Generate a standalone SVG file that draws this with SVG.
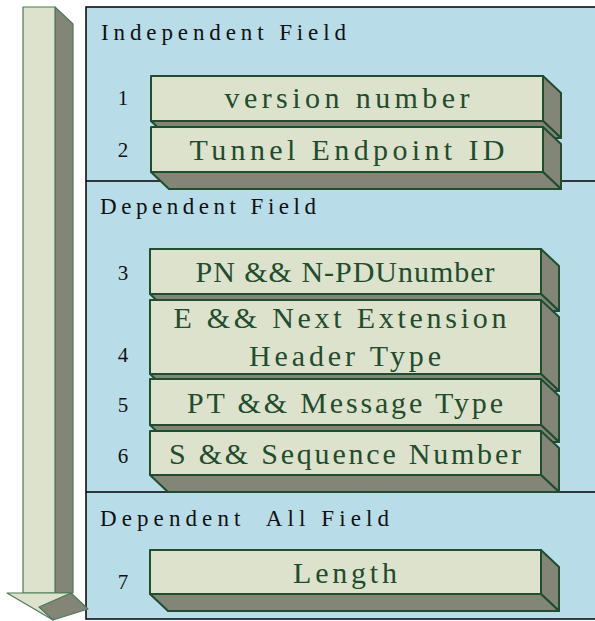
<svg xmlns="http://www.w3.org/2000/svg" width="595" height="621" viewBox="0 0 595 621">
  <style>
    .panel { fill: #b8dde8; stroke: #000; stroke-width: 1.5; }
    .divider { stroke: #000; stroke-width: 1.5; fill: none; }
    .face { fill: #dde2cc; stroke: #1f4d2e; stroke-width: 2; stroke-linejoin: round; }
    .shade { fill: #838577; stroke: #1f4d2e; stroke-width: 2; stroke-linejoin: round; }
    .afront { fill: #dde2cc; stroke: #4c7a58; stroke-width: 1.2; stroke-linejoin: round; }
    .aside { fill: #838577; stroke: #4c7a58; stroke-width: 1.2; stroke-linejoin: round; }
    .title { font-family: "Liberation Serif", serif; font-size: 23px; fill: #111; }
    .num { font-family: "Liberation Serif", serif; font-size: 21px; fill: #111; text-anchor: middle; }
    .label { font-family: "Liberation Serif", serif; font-size: 30px; fill: #1f4d2e; text-anchor: middle; }
  </style>

  <!-- background panel with three sections -->
  <rect class="panel" x="86" y="7" width="515" height="612"/>
  <line class="divider" x1="86" y1="181" x2="595" y2="181"/>
  <line class="divider" x1="86" y1="492" x2="595" y2="492"/>

  <!-- downward 3D arrow -->
  <g id="arrow">
    <polygon class="aside" points="55,7 73,24 73,593 55,593"/>
    <rect class="afront" x="23" y="7" width="32" height="586"/>
    <polygon class="afront" points="7,593 71,593 53,620"/>
    <polygon class="aside" points="39,607 71,593 88,609 53,620"/>
  </g>

  <text class="title" x="101" y="40" textLength="245" lengthAdjust="spacing">Independent Field</text>
  <text class="title" x="100" y="214" textLength="216" lengthAdjust="spacing">Dependent Field</text>
  <text class="title" x="100" y="526" textLength="289" lengthAdjust="spacing" xml:space="preserve">Dependent  All Field</text>

  <g id="n1">
    <polygon class="shade" points="543,76 561,93 561,138 543,121"/>
    <polygon class="shade" points="151,121 543,121 561,138 169,138"/>
    <rect class="face" x="151" y="76" width="392" height="45"/>
    <text class="num" x="123" y="105">1</text>
    <text class="label" x="347" y="108" textLength="245" lengthAdjust="spacing">version number</text>
  </g>

  <g id="n2">
    <polygon class="shade" points="543,127 561,144 561,189 543,172"/>
    <polygon class="shade" points="151,172 543,172 561,189 169,189"/>
    <rect class="face" x="151" y="127" width="392" height="45"/>
    <text class="num" x="123" y="157">2</text>
    <text class="label" x="347" y="160" textLength="315" lengthAdjust="spacing">Tunnel Endpoint ID</text>
  </g>

  <g id="n3">
    <polygon class="shade" points="541,249 559,266 559,311 541,294"/>
    <polygon class="shade" points="150,294 541,294 559,311 168,311"/>
    <rect class="face" x="150" y="249" width="391" height="45"/>
    <text class="num" x="123" y="280">3</text>
    <text class="label" x="345" y="282" textLength="299" lengthAdjust="spacing">PN &amp;&amp; N-PDUnumber</text>
  </g>

  <g id="n4">
    <polygon class="shade" points="541,300 559,317 559,391 541,374"/>
    <polygon class="shade" points="150,374 541,374 559,391 168,391"/>
    <rect class="face" x="150" y="300" width="391" height="74"/>
    <text class="num" x="123" y="362">4</text>
    <text class="label" x="340" y="328" textLength="333" lengthAdjust="spacing">E &amp;&amp; Next Extension</text>
    <text class="label" x="345" y="366" textLength="192" lengthAdjust="spacing">Header Type</text>
  </g>

  <g id="n5">
    <polygon class="shade" points="541,379 559,396 559,442 541,425"/>
    <polygon class="shade" points="150,425 541,425 559,442 168,442"/>
    <rect class="face" x="150" y="379" width="391" height="46"/>
    <text class="num" x="123" y="412">5</text>
    <text class="label" x="345" y="413" textLength="316" lengthAdjust="spacing">PT &amp;&amp; Message Type</text>
  </g>

  <g id="n6">
    <polygon class="shade" points="541,431 559,448 559,492 541,475"/>
    <polygon class="shade" points="150,475 541,475 559,492 168,492"/>
    <rect class="face" x="150" y="431" width="391" height="44"/>
    <text class="num" x="123" y="463">6</text>
    <text class="label" x="345" y="464" textLength="352" lengthAdjust="spacing">S &amp;&amp; Sequence Number</text>
  </g>

  <g id="n7">
    <polygon class="shade" points="541,550 559,567 559,611 541,594"/>
    <polygon class="shade" points="150,594 541,594 559,611 168,611"/>
    <rect class="face" x="150" y="550" width="391" height="44"/>
    <text class="num" x="123" y="589">7</text>
    <text class="label" x="345" y="583" textLength="104" lengthAdjust="spacing">Length</text>
  </g>
</svg>
